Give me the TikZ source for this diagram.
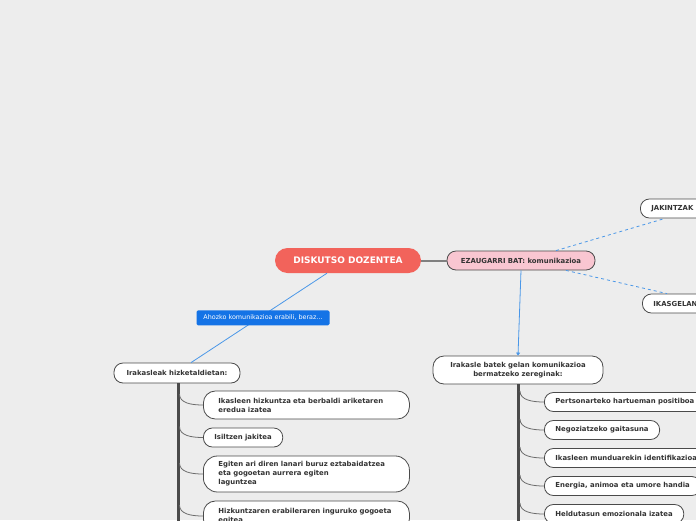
\documentclass[tikz,border=0pt]{standalone}
\usepackage{fontspec}
\setmainfont{DejaVu Sans}
\usetikzlibrary{calc, arrows.meta, positioning}

\definecolor{bgcol}{HTML}{EDEDED}
\definecolor{txtcol}{HTML}{333333}
\definecolor{edgecol}{HTML}{4A4A4A}
\definecolor{rootcol}{HTML}{F2635B}
\definecolor{pinkcol}{HTML}{F9C6D1}
\definecolor{linkblue}{HTML}{4A97E8}
\definecolor{labelblue}{HTML}{1473E6}

\begin{document}
\begin{tikzpicture}[x=1pt, y=-1pt,
  every node/.style={font=\bfseries\fontsize{6.9}{9}\selectfont, text=txtcol},
  pill/.style={draw=edgecol, line width=0.8pt, fill=white, rounded corners=9pt,
    minimum height=19pt, inner xsep=11pt, inner ysep=2pt},
  leaf/.style={pill, anchor=west},
  rootbox/.style={fill=rootcol, rounded corners=12.5pt, minimum width=146pt,
    minimum height=25pt, text=white, font=\bfseries\fontsize{9}{10}\selectfont},
  ahozkobox/.style={fill=labelblue, rounded corners=1.5pt, text=white,
    font=\fontsize{6.4}{7}\selectfont, minimum width=133pt, minimum height=15pt, inner sep=1pt},
  trunk/.style={draw=edgecol, line width=3pt},
  branch/.style={draw=gray!85!black, line width=0.8pt},
  dashlink/.style={draw=linkblue, dashed, line width=0.8pt},
  bluelink/.style={draw=linkblue, line width=0.8pt}]

  % hondoa
  \clip (0,0) rectangle (696,520);
  \fill[bgcol] (0,0) rectangle (696,520);

  % erdiko gaia
  \node[rootbox] (disk) at (348,260.5) {DISKUTSO DOZENTEA};
  \node[pill, fill=pinkcol, minimum width=148pt, inner xsep=6pt] (ezaug) at (521,260.5) {EZAUGARRI BAT: komunikazioa};
  \draw[draw=gray, line width=2pt] (disk.east) -- (ezaug.west);

  % eskuinera moztutako adabegiak
  \node[leaf, text width=80pt, align=left] (jakin) at (640,208.5) {JAKINTZAK};
  \node[leaf, text width=80pt, align=left] (ikasgela) at (642,303.5) {IKASGELAN};
  \draw[dashlink] ($(ezaug.north)+(35,0)$) -- ($(jakin.south west)+(25,0)$);
  \draw[dashlink] ($(ezaug.south)+(45,0)$) -- ($(ikasgela.north west)+(25,0)$);

  % zereginak
  \node[pill, align=center, minimum width=170pt, minimum height=28pt, rounded corners=11pt] (zeregin) at (518,370)
    {Irakasle batek gelan komunikazioa\\bermatzeko zereginak:};
  \draw[bluelink, -{Triangle[width=4pt,length=3pt]}] (ezaug.south) -- (zeregin.north);
  \coordinate (zbot) at (518.5,530);
  \draw[trunk] (zeregin.south -| zbot) -- (zbot);

  \node[leaf] (z1) at (544,402) {Pertsonarteko hartueman positiboa};
  \node[leaf] (z2) at (544,430) {Negoziatzeko gaitasuna};
  \node[leaf] (z3) at (544,458) {Ikasleen munduarekin identifikazioa};
  \node[leaf] (z4) at (544,486) {Energia, animoa eta umore handia};
  \node[leaf] (z5) at (544,514) {Heldutasun emozionala izatea};
  \foreach \c in {z1,z2,z3,z4,z5}
    \draw[branch] ($(\c.west -| zbot)+(1.5,-11)$) .. controls +(0,9) and +(-12,0) .. (\c.west);

  % ezkerreko adarra
  \node[pill, minimum width=126pt, minimum height=20pt] (hizket) at (177,373) {Irakasleak hizketaldietan:};
  \draw[bluelink] ($(disk.south)+(-21,0)$) -- node[ahozkobox, xshift=4pt] (ahozko) {Ahozko komunikazioa erabili, beraz...}
    ($(hizket.north)+(14,0)$);
  \coordinate (hbot) at (178,530);
  \draw[trunk] (hizket.south -| hbot) -- (hbot);

  \node[leaf, text width=176pt, align=left, minimum height=28pt, inner xsep=15pt, rounded corners=12pt] (h1) at (203,405)
    {Ikasleen hizkuntza eta berbaldi ariketaren\\eredua izatea};
  \node[leaf] (h2) at (203,437.5) {Isiltzen jakitea};
  \node[leaf, text width=176pt, align=left, minimum height=36pt, inner xsep=15pt, rounded corners=14pt] (h3) at (203,474)
    {Egiten ari diren lanari buruz eztabaidatzea\\eta gogoetan aurrera egiten\\laguntzea};
  \node[leaf, text width=176pt, align=left, minimum height=30pt, inner xsep=15pt, rounded corners=12pt] (h4) at (203,516)
    {Hizkuntzaren erabileraren inguruko gogoeta\\egitea};
  \foreach \c in {h1,h2,h3,h4}
    \draw[branch] ($(\c.west -| hbot)+(1.5,-11)$) .. controls +(0,9) and +(-12,0) .. (\c.west);
\end{tikzpicture}
\end{document}
